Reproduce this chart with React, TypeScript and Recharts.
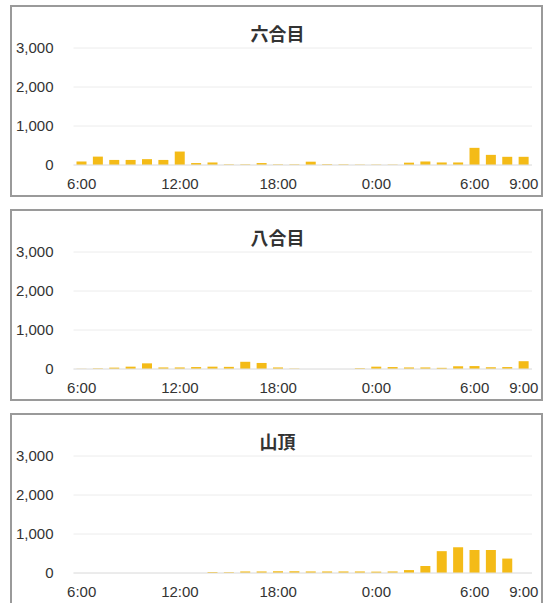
import React from 'react';
import { BarChart, Bar, XAxis, YAxis, CartesianGrid } from 'recharts';

const hours = [
  '6:00', '7:00', '8:00', '9:00', '10:00', '11:00', '12:00', '13:00', '14:00', '15:00',
  '16:00', '17:00', '18:00', '19:00', '20:00', '21:00', '22:00', '23:00', '0:00', '1:00',
  '2:00', '3:00', '4:00', '5:00', '6:00', '7:00', '8:00', '9:00',
];

const rokugome = [90, 215, 130, 130, 150, 130, 345, 50, 65, 15, 15, 50, 15, 15, 85, 20, 15, 10, 10, 10, 60, 90, 65, 65, 440, 260, 210, 210];
const hachigome = [5, 15, 35, 60, 145, 40, 40, 50, 60, 55, 185, 155, 40, 10, 0, 0, 0, 20, 60, 50, 40, 40, 30, 70, 75, 45, 50, 200];
const sancho = [0, 0, 0, 0, 0, 0, 0, 0, 25, 20, 40, 40, 45, 45, 40, 40, 40, 40, 35, 40, 75, 180, 560, 660, 590, 590, 370, 0];

const panelTitles = ['六合目', '八合目', '山頂'];
const yTicks = [0, 1000, 2000, 3000];
const yTickLabels = ['0', '1,000', '2,000', '3,000'];
const xTickIdx = [0, 6, 12, 18, 24, 27];

const FONT = '"Liberation Sans", Arial, sans-serif';

function Panel({ title, values, top }: { title: string; values: number[]; top: number }) {
  const data = hours.map((h, i) => ({ idx: i, label: h, value: values[i] }));
  return (
    <div style={{ position: 'absolute', left: 10, top, width: 533, height: 192 }}>
      <BarChart width={533} height={192} data={data} margin={{ top: 43, right: 11, bottom: 2, left: 0 }}>
        <CartesianGrid vertical={false} stroke="#ececec" />
        <XAxis
          dataKey="idx"
          type="category"
          ticks={xTickIdx}
          interval={0}
          tickFormatter={(v: number) => hours[v]}
          tickLine={false}
          axisLine={{ stroke: '#e2e2e2' }}
          tick={{ fill: '#333', fontSize: 15, fontFamily: FONT }}
          tickMargin={7}
          height={30}
        />
        <YAxis
          type="number"
          domain={[0, 3000]}
          ticks={yTicks}
          interval={0}
          tickFormatter={(v: number) => yTickLabels[yTicks.indexOf(v)]}
          tickLine={false}
          axisLine={false}
          width={63.5}
          tickMargin={14}
          tick={{ fill: '#333', fontSize: 15, fontFamily: FONT }}
        />
        <Bar dataKey="value" fill="#f4bb17" barSize={10} isAnimationActive={false} />
      </BarChart>
      <div
        style={{
          position: 'absolute',
          left: 0,
          top: 16,
          width: 533,
          textAlign: 'center',
          paddingLeft: 1,
          fontFamily: '"Noto Sans CJK JP", sans-serif',
          fontWeight: 700,
          fontSize: 18,
          lineHeight: '24px',
          color: '#333',
          pointerEvents: 'none',
        }}
      >
        {title}
      </div>
      <div
        style={{
          position: 'absolute',
          left: 0,
          top: 0,
          width: 533,
          height: 192,
          border: '2px solid #9a9a9a',
          boxSizing: 'border-box',
          pointerEvents: 'none',
        }}
      />
    </div>
  );
}

export default function App() {
  const series = [rokugome, hachigome, sancho];
  const tops = [5, 209, 413];
  return (
    <div style={{ position: 'absolute', left: 0, top: 0, width: 545, height: 603, background: '#fff', overflow: 'hidden' }}>
      {series.map((s, i) => (
        <Panel key={panelTitles[i]} title={panelTitles[i]} values={s} top={tops[i]} />
      ))}
    </div>
  );
}
